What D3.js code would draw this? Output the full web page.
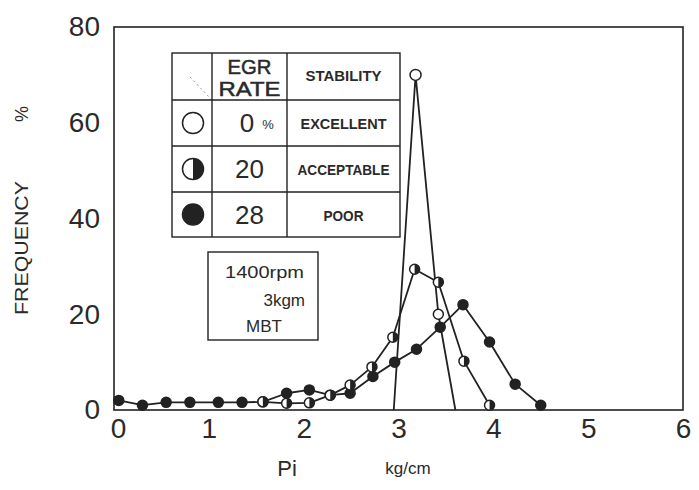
<!DOCTYPE html>
<html>
<head>
<meta charset="utf-8">
<script src="https://cdn.jsdelivr.net/npm/d3@7"></script>
<style>
  html, body { margin: 0; padding: 0; background: #fff; }
  svg { display: block; }
  text { font-family: "Liberation Sans", "DejaVu Sans", sans-serif; fill: #2a2a2a; }
</style>
</head>
<body>
<svg id="chart" width="699" height="490"></svg>
<script>
// Indicated mean effective pressure Pi (kg/cm) and cycle frequency (%)
const xTicks = [0, 1, 2, 3, 4, 5, 6];
const yTicks = [0, 20, 40, 60, 80];

// EGR 0 % — excellent stability
const egr0X = [2.95, 3.18, 3.42, 3.60];
const egr0Y = [0, 70, 20, 0];

// EGR 20 % — acceptable stability
const egr20X = [1.57, 1.82, 2.06, 2.28, 2.49, 2.72, 2.94, 3.17, 3.42, 3.69, 3.96];
const egr20Y = [1.7, 1.4, 1.5, 3.1, 5.2, 9.0, 15.2, 29.4, 26.7, 10.2, 1.0];

// EGR 28 % — poor stability
const egr28X = [0.05, 0.30, 0.55, 0.80, 1.10, 1.35, 1.57, 1.82, 2.06, 2.28, 2.49, 2.73, 2.96, 3.19, 3.44, 3.68, 3.96, 4.23, 4.50];
const egr28Y = [2.0, 1.0, 1.6, 1.6, 1.6, 1.6, 1.7, 3.5, 4.2, 3.1, 3.5, 7.0, 10.0, 12.7, 17.3, 22.0, 14.2, 5.4, 1.0];

const legendRates = ["0", "20", "28"];
const legendStability = ["EXCELLENT", "ACCEPTABLE", "POOR"];
const legendFill = ["open", "half", "full"];
const conditions = ["1400rpm", "3kgm", "MBT"];

const ink = "#222";
const svg = d3.select("#chart");

const x = d3.scaleLinear().domain([0, 6]).range([114, 683]);
const y = d3.scaleLinear().domain([0, 80]).range([410, 27]);

// plot frame
svg.append("rect")
  .attr("x", x(0)).attr("y", y(80))
  .attr("width", x(6) - x(0)).attr("height", y(0) - y(80))
  .attr("fill", "none").attr("stroke", ink).attr("stroke-width", 1.6);

// axes (labels only, the frame carries the lines)
const yAxis = svg.append("g")
  .attr("transform", `translate(${x(0)},0)`)
  .call(d3.axisLeft(y).tickValues(yTicks).tickFormat(d3.format("d")).tickSize(0).tickPadding(14));
yAxis.select(".domain").remove();
yAxis.selectAll("text")
  .attr("font-size", 28).attr("fill", "#333")
  .style("font-family", "'Liberation Sans', sans-serif");

const xAxis = svg.append("g")
  .attr("transform", `translate(0,${y(0)})`)
  .call(d3.axisBottom(x).tickValues(xTicks).tickFormat(d3.format("d")).tickSize(0).tickPadding(8));
xAxis.select(".domain").remove();
xAxis.selectAll("text")
  .attr("font-size", 28).attr("fill", "#333")
  .style("font-family", "'Liberation Sans', sans-serif");
xAxis.selectAll(".tick").filter(d => d === 0).select("text").attr("dx", 4);

// axis titles
svg.append("text")
  .attr("transform", "translate(28,248) rotate(-90)")
  .attr("text-anchor", "middle")
  .attr("font-size", 18)
  .attr("textLength", 134).attr("lengthAdjust", "spacingAndGlyphs")
  .text("FREQUENCY");
svg.append("text")
  .attr("transform", "translate(28,114) rotate(-90)")
  .attr("text-anchor", "middle")
  .attr("font-size", 18)
  .text("%");
svg.append("text")
  .attr("x", 287).attr("y", 476)
  .attr("text-anchor", "middle")
  .attr("font-size", 22)
  .text("Pi");
svg.append("text")
  .attr("x", 408).attr("y", 474)
  .attr("text-anchor", "middle")
  .attr("font-size", 17)
  .text("kg/cm");

// series
const series = [
  { xs: egr0X, ys: egr0Y, fill: "open" },
  { xs: egr20X, ys: egr20Y, fill: "half" },
  { xs: egr28X, ys: egr28Y, fill: "full" }
];

const line = d3.line().x(d => x(d[0])).y(d => y(d[1]));

series.forEach(s => {
  const pts = s.xs.map((v, i) => [v, s.ys[i]]);
  svg.append("path")
    .attr("d", line(pts))
    .attr("fill", "none")
    .attr("stroke", ink)
    .attr("stroke-width", 1.8)
    .attr("stroke-linejoin", "round");
});

// half-filled marker: open on the left, solid on the right
function marker(g, cx, cy, r, kind) {
  g.append("circle")
    .attr("cx", cx).attr("cy", cy).attr("r", r)
    .attr("fill", kind === "full" ? ink : "#fff")
    .attr("stroke", ink).attr("stroke-width", 1.5);
  if (kind === "half") {
    const arc = d3.arc()({ innerRadius: 0, outerRadius: r, startAngle: 0, endAngle: Math.PI });
    g.append("path")
      .attr("d", arc)
      .attr("transform", `translate(${cx},${cy})`)
      .attr("fill", ink);
  }
}

const marks = svg.append("g");
// draw the filled series first so open marks sit on top
[series[2], series[1], series[0]].forEach(s => {
  s.xs.forEach((v, i) => {
    if (s.ys[i] > 0) marker(marks, x(v), y(s.ys[i]), s.fill === "open" && s.ys[i] > 50 ? 5.5 : 5, s.fill);
  });
});

// legend table
const tbl = svg.append("g");
const colX = [172, 212, 287, 400];
const rowY = [53, 100, 146, 192, 237];
tbl.append("rect")
  .attr("x", colX[0]).attr("y", rowY[0])
  .attr("width", colX[3] - colX[0]).attr("height", rowY[4] - rowY[0])
  .attr("fill", "#fff").attr("stroke", ink).attr("stroke-width", 1.4);
colX.slice(1, 3).forEach(cx => {
  tbl.append("line").attr("x1", cx).attr("x2", cx).attr("y1", rowY[0]).attr("y2", rowY[4])
    .attr("stroke", ink).attr("stroke-width", 1.4);
});
rowY.slice(1, 4).forEach(ry => {
  tbl.append("line").attr("x1", colX[0]).attr("x2", colX[3]).attr("y1", ry).attr("y2", ry)
    .attr("stroke", ink).attr("stroke-width", 1.4);
});
// diagonal in the corner cell
tbl.append("line")
  .attr("x1", 190).attr("y1", 77).attr("x2", 211).attr("y2", 99)
  .attr("stroke", "#999").attr("stroke-width", 1).attr("stroke-dasharray", "2,3");

const c2 = (colX[1] + colX[2]) / 2;
const c3 = (colX[2] + colX[3]) / 2;
tbl.append("text").attr("x", c2).attr("y", 74).attr("text-anchor", "middle")
  .attr("font-size", 21).attr("textLength", 44).attr("lengthAdjust", "spacingAndGlyphs")
  .attr("stroke", "#2a2a2a").attr("stroke-width", 0.5)
  .text("EGR");
tbl.append("text").attr("x", c2).attr("y", 96).attr("text-anchor", "middle")
  .attr("font-size", 21).attr("textLength", 62).attr("lengthAdjust", "spacingAndGlyphs")
  .attr("stroke", "#2a2a2a").attr("stroke-width", 0.5)
  .text("RATE");
tbl.append("text").attr("x", c3).attr("y", 81).attr("text-anchor", "middle")
  .attr("font-size", 14).attr("font-weight", "bold").attr("textLength", 76).attr("lengthAdjust", "spacingAndGlyphs")
  .text("STABILITY");

legendRates.forEach((r, i) => {
  const cy = (rowY[i + 1] + rowY[i + 2]) / 2;
  marker(tbl, 193, cy, 10.5, legendFill[i]);
  const t = tbl.append("text").attr("x", i === 0 ? 247 : c2).attr("y", cy + 9)
    .attr("text-anchor", "middle").attr("font-size", 26).attr("fill", "#333");
  t.text(r);
  if (i === 0) {
    tbl.append("text").attr("x", 268).attr("y", cy + 6).attr("text-anchor", "middle")
      .attr("font-size", 13).attr("fill", "#333").text("%");
  }
  const widths = [86, 92, 40];
  tbl.append("text").attr("x", c3).attr("y", cy + 6).attr("text-anchor", "middle")
    .attr("font-size", 15).attr("font-weight", "bold")
    .attr("textLength", widths[i]).attr("lengthAdjust", "spacingAndGlyphs")
    .text(legendStability[i]);
});

// test condition box
const box = svg.append("g");
box.append("rect").attr("x", 208).attr("y", 252).attr("width", 110).attr("height", 88)
  .attr("fill", "#fff").attr("stroke", ink).attr("stroke-width", 1.4);
box.append("text").attr("x", 225).attr("y", 278).attr("font-size", 17).attr("fill", "#333")
  .attr("textLength", 79).attr("lengthAdjust", "spacingAndGlyphs").text(conditions[0]);
box.append("text").attr("x", 305).attr("y", 306).attr("text-anchor", "end").attr("font-size", 17).attr("fill", "#333")
  .text(conditions[1]);
box.append("text").attr("x", 264).attr("y", 332).attr("text-anchor", "middle").attr("font-size", 17).attr("fill", "#333")
  .text(conditions[2]);
</script>
</body>
</html>
